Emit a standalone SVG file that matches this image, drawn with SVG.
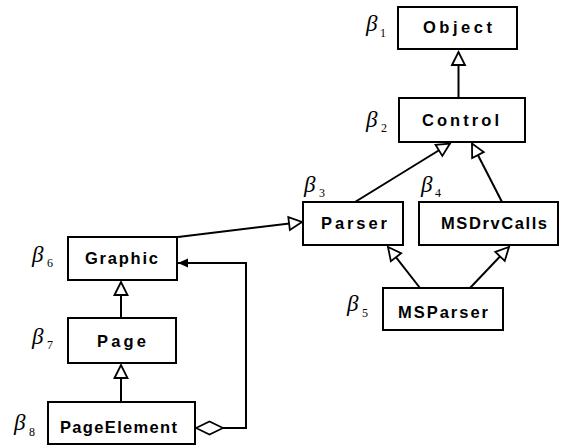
<svg xmlns="http://www.w3.org/2000/svg" width="573" height="448" viewBox="0 0 573 448">
<style>
.box{fill:#fff;stroke:#000;stroke-width:2}
.lbl{font-family:"Liberation Sans",Arial,sans-serif;font-weight:bold;font-size:16.5px;fill:#000}
.beta{font-family:"Liberation Serif","Times New Roman",serif;font-style:italic;font-size:23px;fill:#000}
.sub{font-family:"Liberation Serif","Times New Roman",serif;font-size:12px;fill:#000}
.edge{fill:none;stroke:#000;stroke-width:2}
.gen{marker-end:url(#tri)}
</style>
<defs>
<marker id="tri" markerUnits="userSpaceOnUse" markerWidth="16" markerHeight="14" refX="13" refY="6.5" orient="auto" overflow="visible">
<path d="M0,0 L13,6.5 L0,13 z" fill="#fff" stroke="#000" stroke-width="1.8"/>
</marker>
<marker id="solid" markerUnits="userSpaceOnUse" markerWidth="12" markerHeight="10" refX="10" refY="4.5" orient="auto" overflow="visible">
<path d="M0,0 L10,4.5 L0,9 z" fill="#000"/>
</marker>
</defs>
<g id="connectors">
<line class="edge gen" x1="458.5" y1="98" x2="458.5" y2="52"/>
<line class="edge gen" x1="355" y1="202" x2="450" y2="143.5"/>
<line class="edge gen" x1="502" y1="202" x2="472" y2="143.5"/>
<line class="edge gen" x1="178" y1="237" x2="302" y2="222"/>
<line class="edge gen" x1="420" y1="288" x2="388" y2="247"/>
<line class="edge gen" x1="470" y1="288" x2="509" y2="247"/>
<line class="edge gen" x1="121" y1="318" x2="121" y2="282"/>
<line class="edge gen" x1="121" y1="402" x2="121" y2="365"/>
<path class="edge" d="M223,428 H246 V263 H178" marker-end="url(#solid)"/>
<polygon points="196,428 209.5,421.5 223,428 209.5,434.5" fill="#fff" stroke="#000" stroke-width="1.6"/>
</g>
<g id="object">
<rect class="box" x="398" y="7" width="119" height="42"/>
<text class="lbl" x="423" y="33" textLength="69" lengthAdjust="spacing">Object</text>
<text class="beta" x="366" y="31">β</text><text class="sub" x="380" y="37">1</text>
</g>
<g id="control">
<rect class="box" x="399" y="98" width="126" height="44"/>
<text class="lbl" x="422" y="126" textLength="77" lengthAdjust="spacing">Control</text>
<text class="beta" x="366" y="127">β</text><text class="sub" x="381" y="132">2</text>
</g>
<g id="parser">
<rect class="box" x="303" y="202" width="100" height="43"/>
<text class="lbl" x="321" y="229" textLength="66" lengthAdjust="spacing">Parser</text>
<text class="beta" x="304" y="192">β</text><text class="sub" x="319" y="197">3</text>
</g>
<g id="msdrvcalls">
<rect class="box" x="419" y="202" width="139" height="43"/>
<text class="lbl" x="441" y="229" textLength="106" lengthAdjust="spacing">MSDrvCalls</text>
<text class="beta" x="421" y="192">β</text><text class="sub" x="435" y="197">4</text>
</g>
<g id="msparser">
<rect class="box" x="383" y="288" width="120" height="42"/>
<text class="lbl" x="398" y="318" textLength="90" lengthAdjust="spacing">MSParser</text>
<text class="beta" x="347" y="311">β</text><text class="sub" x="362" y="317">5</text>
</g>
<g id="graphic">
<rect class="box" x="68" y="237" width="109" height="43"/>
<text class="lbl" x="85" y="264" textLength="73" lengthAdjust="spacing">Graphic</text>
<text class="beta" x="32" y="262">β</text><text class="sub" x="47" y="267">6</text>
</g>
<g id="page">
<rect class="box" x="68" y="318" width="108" height="45"/>
<text class="lbl" x="97" y="347" textLength="49" lengthAdjust="spacing">Page</text>
<text class="beta" x="32" y="344">β</text><text class="sub" x="47" y="349">7</text>
</g>
<g id="pageelement">
<rect class="box" x="48" y="402" width="147" height="42"/>
<text class="lbl" x="60" y="433" textLength="117" lengthAdjust="spacing">PageElement</text>
<text class="beta" x="14" y="430">β</text><text class="sub" x="29" y="436">8</text>
</g>
</svg>
